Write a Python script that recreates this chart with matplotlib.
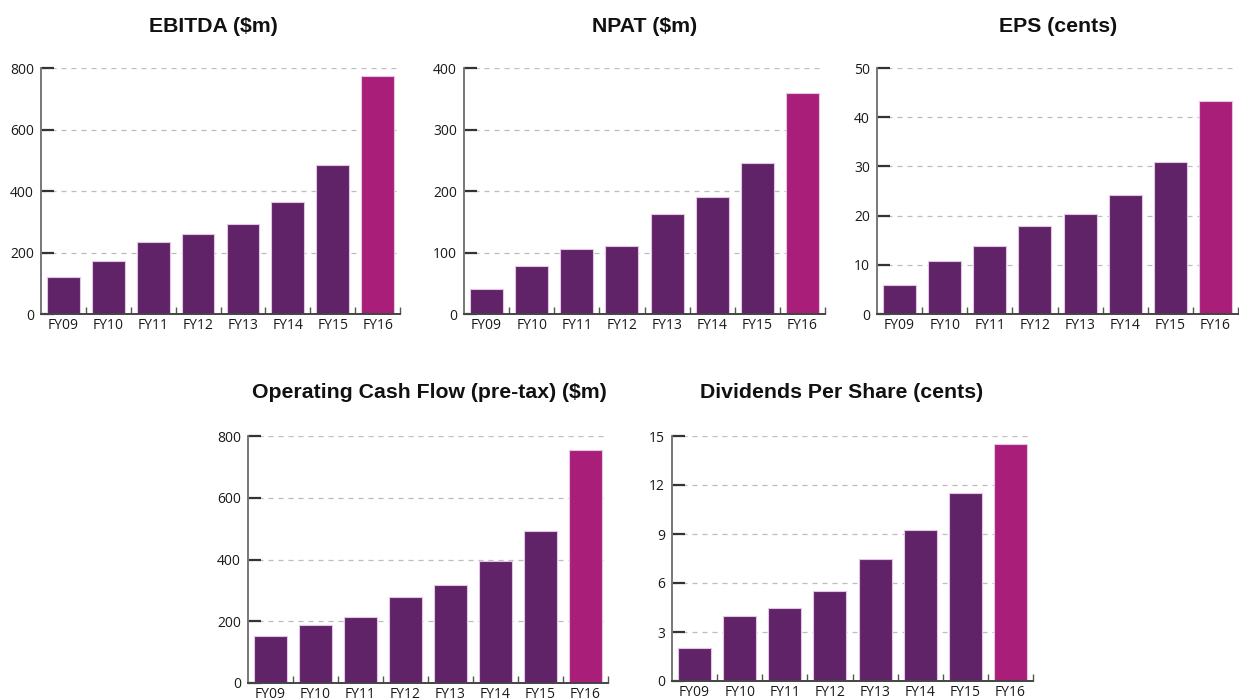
import matplotlib
matplotlib.use("Agg")
import matplotlib.pyplot as plt
import numpy as np

categories = ["FY09", "FY10", "FY11", "FY12", "FY13", "FY14", "FY15", "FY16"]
ebitda = [121, 171, 234, 261, 293, 365, 483, 774]
npat = [40, 78, 106, 110, 162, 190, 245, 359]
eps = [5.9, 10.7, 13.8, 17.8, 20.4, 24.1, 30.9, 43.2]
ocf = [152, 189, 214, 277, 317, 395, 491, 756]
dps = [2.0, 4.0, 4.5, 5.5, 7.5, 9.25, 11.5, 14.5]

titles = ["EBITDA ($m)", "NPAT ($m)", "EPS (cents)",
          "Operating Cash Flow (pre-tax) ($m)", "Dividends Per Share (cents)"]
yticks_list = [[0, 200, 400, 600, 800], [0, 100, 200, 300, 400],
               [0, 10, 20, 30, 40, 50], [0, 200, 400, 600, 800],
               [0, 3, 6, 9, 12, 15]]
series = [ebitda, npat, eps, ocf, dps]

W, H = 1239, 700
# (left, right, top, bottom) in pixels
boxes = [(41, 400, 68, 314), (464, 825, 68, 314), (877, 1238, 68, 314),
         (248, 608, 436, 683), (672, 1033, 436, 681)]
title_pos = [(213, 27), (645, 27), (1058, 27), (429, 393), (842, 393)]

dark = "#612368"
hot = "#a91e79"

fig = plt.figure(figsize=(W / 100, H / 100), dpi=100)
fig.patch.set_facecolor("white")

for i, (vals, ticks, title) in enumerate(zip(series, yticks_list, titles)):
    l, r, t, b = boxes[i]
    ax = fig.add_axes([l / W, (H - b) / H, (r - l) / W, (b - t) / H])
    x = np.arange(len(categories))
    colors = [dark] * (len(categories) - 1) + [hot]
    ax.bar(x, vals, width=0.73, color=colors, edgecolor="#e3c6e6",
           linewidth=0.8, zorder=3)
    ax.set_xlim(-0.5, 7.5)
    ax.set_ylim(0, ticks[-1])
    ax.set_yticks(ticks)
    ax.set_yticklabels([str(v) for v in ticks])
    for v in ticks[1:]:
        ax.plot([-0.5, 7.45], [v, v], color="#bdbdbd", lw=0.9,
                ls=(0, (4, 4)), zorder=1)
    ax.set_xticks(x)
    ax.set_xticklabels(categories)
    ax.set_xticks(np.arange(0.5, 8.0, 1.0), minor=True)
    ax.tick_params(axis="x", which="major", length=0, pad=3,
                   labelsize=10, labelcolor="#1a1a1a")
    ax.tick_params(axis="x", which="minor", direction="in", length=5,
                   width=1.0, color="#555555")
    ax.tick_params(axis="y", which="major", direction="in", length=9,
                   width=1.6, color="#333333", pad=5, labelsize=10,
                   labelcolor="#1a1a1a")
    for lab in ax.get_xticklabels() + ax.get_yticklabels():
        lab.set_family("Open Sans")
    for s in ["top", "right"]:
        ax.spines[s].set_visible(False)
    ax.spines["left"].set_color("#777777")
    ax.spines["left"].set_linewidth(1.4)
    ax.spines["bottom"].set_color("#444444")
    ax.spines["bottom"].set_linewidth(1.4)
    ax.spines["left"].set_zorder(4)
    ax.spines["bottom"].set_zorder(4)
    tx, ty = title_pos[i]
    fig.text(tx / W, (H - ty) / H, title, ha="center", va="center",
             fontsize=15.3, fontweight="bold", family="Liberation Sans",
             color="#111111")

fig.savefig("out.png", dpi=100, facecolor="white")
